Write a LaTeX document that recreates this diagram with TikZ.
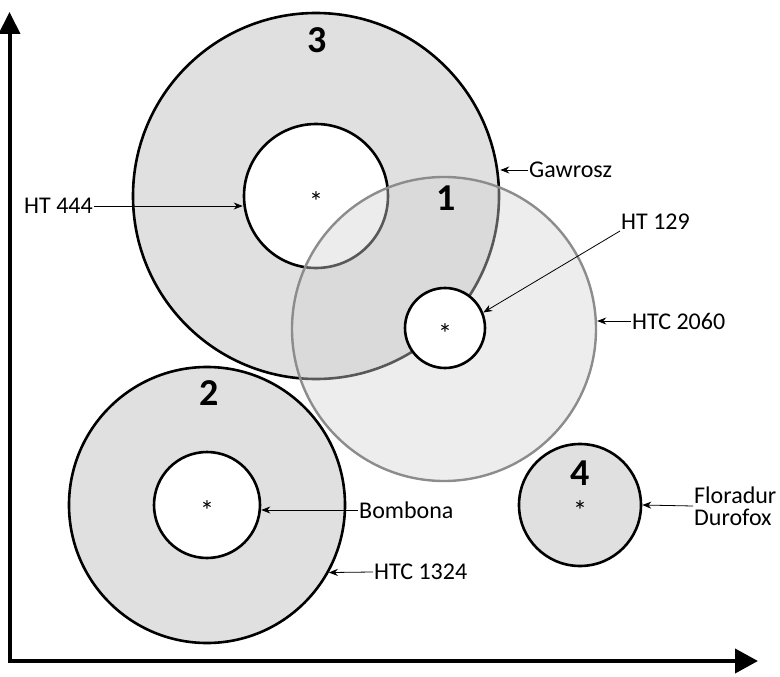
\documentclass[tikz,border=0pt]{standalone}
\usepackage{fontspec}
\setmainfont{Carlito}
\usetikzlibrary{arrows.meta}
\tikzset{
	ring/.style={draw, circle, inner sep=0pt, line width=2.6pt, fill=black!12},
	hole/.style={draw, circle, inner sep=0pt, line width=2.6pt, fill=white},
	zone/.style={draw=black!45, circle, inner sep=0pt, line width=2.4pt, fill=black!17, fill opacity=0.42},
	% labels beside the circles
	tag/.style={anchor=west, inner sep=1pt, font=\fontsize{24}{22}\selectfont},
	num/.style={inner sep=0pt, font=\fontsize{38}{38}\selectfont\bfseries},
	dot/.style={inner sep=0pt, font=\fontsize{28}{28}\selectfont},
}

\begin{document}
\begin{tikzpicture}[x=1pt, y=-1pt]
	\useasboundingbox (0,0) rectangle (780,677);
	
	\node (c3) [ring, minimum size=366pt] at (316,196) {};
	\node (in3) [hole, minimum size=144pt] at (316,196) {};
	\node (c2) [ring, minimum size=276pt] at (207,505) {};
	\node (in2) [hole, minimum size=106pt] at (207,505) {};
	\node (c4) [ring, minimum size=122pt] at (580,505) {};
	\node (c1) [zone, minimum size=304pt] at (444,329) {};
	\node (in1) [hole, minimum size=80pt] at (445,328) {};
	
	\node (s3) [dot, yshift=-6pt] at (in3) {*};
	\node (s1) [dot, yshift=-6pt] at (in1) {*};
	\node (s2) [dot, yshift=-6pt] at (in2) {*};
	\node (s4) [dot, yshift=-6pt] at (c4) {*};
	
	\node (n3) [num] at (317,40) {3};
	\node (n1) [num] at (446,198) {1};
	\node (n2) [num] at (209,393) {2};
	\node (n4) [num] at (580,473) {4};
	
	\node (t444) [tag] at (23,206) {HT 444};
	\node (tgaw) [tag] at (528,170) {Gawrosz};
	\node (t129) [tag] at (620,222) {HT 129};
	\node (t2060) [tag] at (631,321) {HTC 2060};
	\node (tbom) [tag] at (358,510) {Bombona};
	\node (t1324) [tag] at (373,572) {HTC 1324};
	\node (tflo) [tag, align=left] at (693,506) {Floradur\\Durofox};
	
	\coordinate (ytop) at (9.5,12);
	\coordinate (o) at (9.5,661);
	\coordinate (xend) at (758,661);
	
	\draw[line width=4pt, {Triangle[length=22pt, width=21pt]}-{Triangle[length=23pt, width=24pt]}] (ytop) -- (o) -- (xend);
	
	\begin{scope}[line width=0.8pt, black, -{Stealth[length=9pt, width=7pt]}]
		\draw (t444.east) -- (t444.east -| in3.west);
		\draw (tgaw.west) -- (tgaw.west -| c3.east);
		\draw (t129.south west) -- (in1.22);
		\draw (t2060.west) -- (t2060.west -| c1.east);
		\draw (tbom.west) -- (tbom.west -| in2.east);
		\draw (t1324.west) -- (c2.-29);
		\draw (tflo.west) -- (c4.east);
	\end{scope}
	
\end{tikzpicture}
\end{document}
